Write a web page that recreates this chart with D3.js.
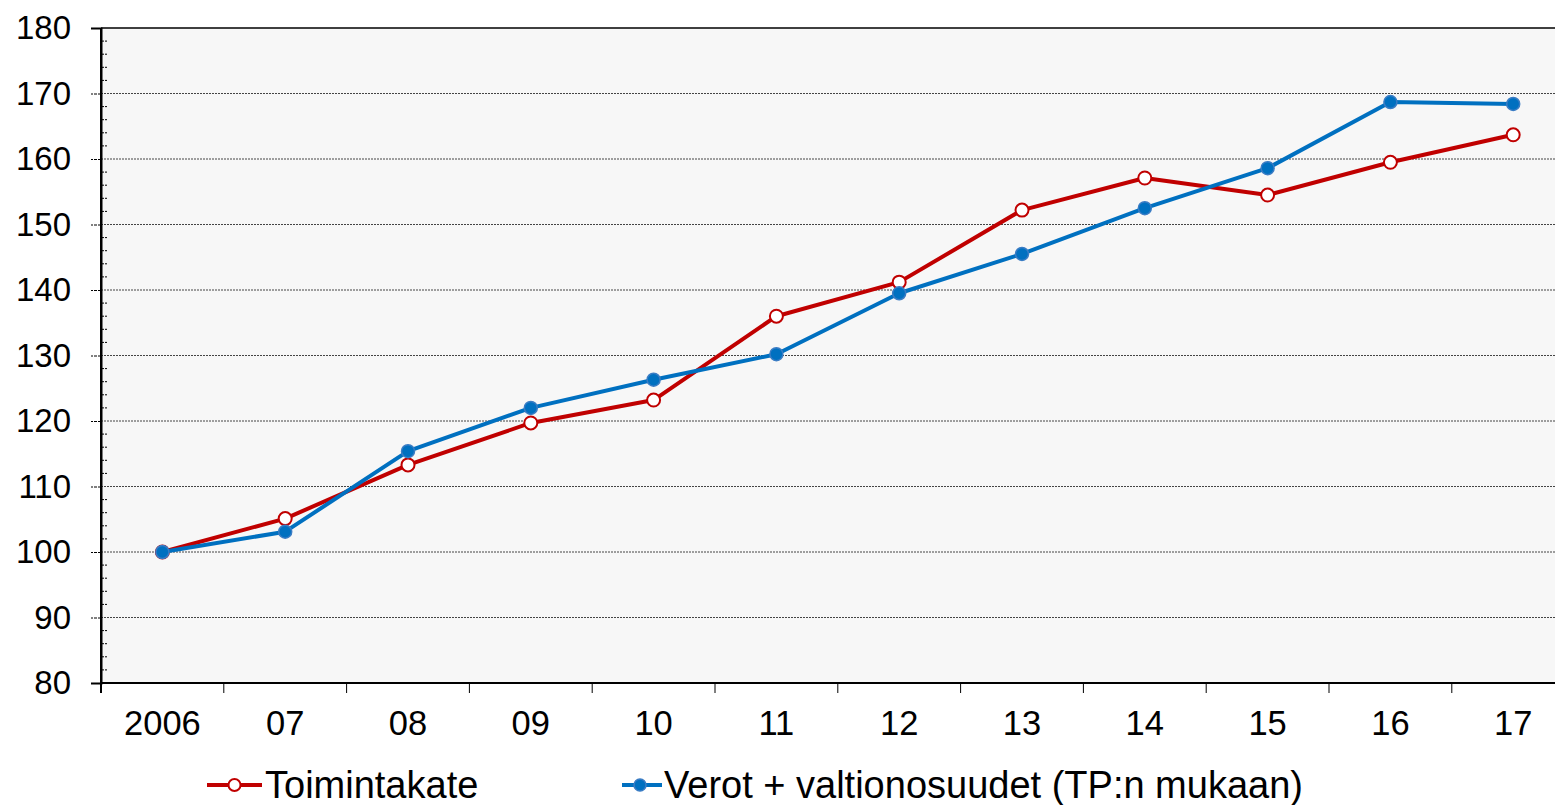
<!DOCTYPE html>
<html>
<head>
<meta charset="utf-8">
<script src="https://cdn.jsdelivr.net/npm/d3@7"></script>
<style>
  html, body { margin: 0; padding: 0; background: #fff; }
  svg { display: block; font-family: "Liberation Sans", Arial, sans-serif; }
</style>
</head>
<body>
<div id="chart"></div>
<script>
const years = ['2006', '07', '08', '09', '10', '11', '12', '13', '14', '15', '16', '17']
const toimintakate = [100, 105.1, 113.3, 119.7, 123.2, 136.0, 141.2, 152.2, 157.1, 154.5, 159.5, 163.7]
const verot = [100, 103.1, 115.4, 122.0, 126.3, 130.2, 139.5, 145.5, 152.5, 158.6, 168.7, 168.4]
const yTicks = [80, 90, 100, 110, 120, 130, 140, 150, 160, 170, 180]
const seriesNames = ['Toimintakate', 'Verot + valtionosuudet (TP:n mukaan)']

const width = 1555
const height = 805
const plot = { left: 101, top: 28, bottom: 683, right: 1555 }
const red = '#c00000'
const blue = '#0070c0'

const svg = d3.select('#chart').append('svg')
  .attr('width', width)
  .attr('height', height)

const x = d3.scaleBand()
  .domain(years)
  .range([plot.left, plot.left + 12 * 122.8])

const y = d3.scaleLinear()
  .domain([80, 180])
  .range([plot.bottom, plot.top])

// plot background
svg.append('rect')
  .attr('x', plot.left)
  .attr('y', plot.top)
  .attr('width', plot.right - plot.left)
  .attr('height', plot.bottom - plot.top)
  .attr('fill', '#f7f7f7')

// gridlines
svg.append('g')
  .selectAll('line')
  .data(yTicks.filter(d => d > 80 && d < 180))
  .enter().append('line')
  .attr('x1', plot.left)
  .attr('x2', plot.right)
  .attr('y1', d => y(d))
  .attr('y2', d => y(d))
  .attr('stroke', '#444')
  .attr('stroke-width', 1)
  .attr('stroke-dasharray', '2,1')

// top border
svg.append('line')
  .attr('x1', plot.left).attr('x2', plot.right)
  .attr('y1', y(180)).attr('y2', y(180))
  .attr('stroke', '#000').attr('stroke-width', 1.5)

// minor ticks on y axis
svg.append('g')
  .selectAll('line')
  .data(d3.range(82, 180, 2).filter(d => d % 10 !== 0))
  .enter().append('line')
  .attr('x1', plot.left)
  .attr('x2', plot.left + 6)
  .attr('y1', d => y(d))
  .attr('y2', d => y(d))
  .attr('stroke', '#000')
  .attr('stroke-width', 1)
  .attr('stroke-dasharray', '3,1')

// y axis
const yAxis = svg.append('g')
  .attr('transform', `translate(${plot.left},0)`)
  .call(d3.axisLeft(y).tickValues(yTicks).tickSize(10).tickPadding(20))
yAxis.select('.domain').attr('stroke', '#000').attr('stroke-width', 2)
yAxis.selectAll('.tick line').attr('stroke', '#000').attr('stroke-dasharray', '3,1')
yAxis.selectAll('.tick text')
  .attr('font-size', 33)
  .attr('fill', '#000')
  .attr('font-family', '"Liberation Sans", Arial, sans-serif')

// x axis
const xAxis = svg.append('g')
  .attr('transform', `translate(0,${plot.bottom})`)
  .call(d3.axisBottom(x).tickSize(0).tickPadding(0))
xAxis.select('.domain').remove()
xAxis.selectAll('.tick text')
  .attr('font-size', 34.5)
  .attr('fill', '#000')
  .attr('dy', null)
  .attr('y', 52)
  .attr('font-family', '"Liberation Sans", Arial, sans-serif')

svg.append('g')
  .selectAll('line')
  .data(years)
  .enter().append('line')
  .attr('x1', d => x(d))
  .attr('x2', d => x(d))
  .attr('y1', plot.bottom)
  .attr('y2', plot.bottom + 10)
  .attr('stroke', '#000')
  .attr('stroke-width', 1)

svg.append('line')
  .attr('x1', plot.left).attr('x2', plot.right)
  .attr('y1', plot.bottom).attr('y2', plot.bottom)
  .attr('stroke', '#000').attr('stroke-width', 2)

const line = d3.line()
  .x((d, i) => x(years[i]) + x.bandwidth() / 2)
  .y(d => y(d))

const drawSeries = (values, color, filled) => {
  svg.append('path')
    .datum(values)
    .attr('fill', 'none')
    .attr('stroke', color)
    .attr('stroke-width', 4)
    .attr('stroke-linejoin', 'round')
    .attr('d', line)

  svg.append('g')
    .selectAll('circle')
    .data(values)
    .enter().append('circle')
    .attr('cx', (d, i) => x(years[i]) + x.bandwidth() / 2)
    .attr('cy', d => y(d))
    .attr('r', 6.5)
    .attr('fill', filled ? color : '#fff')
    .attr('stroke', filled ? '#3a7cc4' : color)
    .attr('stroke-width', filled ? 1.5 : 2)
}

drawSeries(toimintakate, red, false)
drawSeries(verot, blue, true)

// left axis line on top
svg.append('line')
  .attr('x1', plot.left).attr('x2', plot.left)
  .attr('y1', plot.top).attr('y2', plot.bottom + 10)
  .attr('stroke', '#000').attr('stroke-width', 2)

// legend
const legendItems = [
  { name: seriesNames[0], color: red, filled: false, x0: 207, x1: 262, tx: 265 },
  { name: seriesNames[1], color: blue, filled: true, x0: 622, x1: 662, tx: 664 }
]
const legendY = 785
const legend = svg.append('g')
legendItems.forEach(item => {
  legend.append('line')
    .attr('x1', item.x0).attr('x2', item.x1)
    .attr('y1', legendY).attr('y2', legendY)
    .attr('stroke', item.color).attr('stroke-width', 4)
  legend.append('circle')
    .attr('cx', (item.x0 + item.x1) / 2 + (item.filled ? -2 : 0))
    .attr('cy', legendY)
    .attr('r', 6)
    .attr('fill', item.filled ? item.color : '#fff')
    .attr('stroke', item.filled ? '#3a7cc4' : item.color)
    .attr('stroke-width', item.filled ? 1.5 : 2)
  legend.append('text')
    .attr('x', item.tx)
    .attr('y', legendY + 13)
    .attr('font-size', 38)
    .attr('fill', '#000')
    .text(item.name)
})
</script>
</body>
</html>
